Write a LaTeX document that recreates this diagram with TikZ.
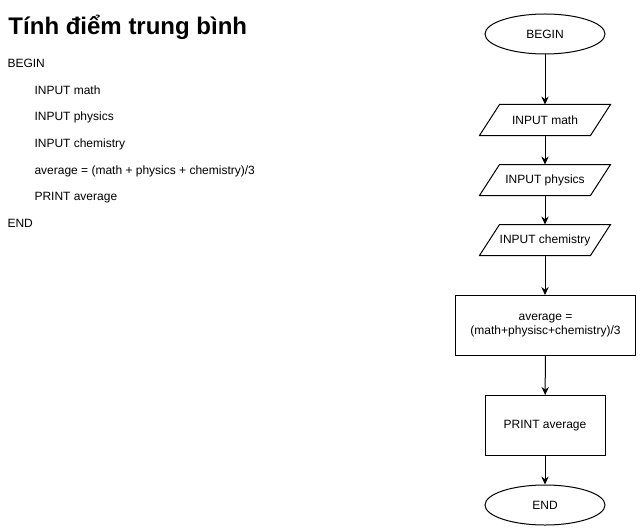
\documentclass[tikz,border=0pt]{standalone}
\usepackage{fontspec}
\setmainfont{Liberation Sans}
\usetikzlibrary{shapes.geometric,arrows.meta}

\begin{document}
\begin{tikzpicture}[x=0.75pt,y=-0.75pt,line width=0.75pt,
    font=\fontsize{9pt}{11pt}\selectfont,
    term/.style={draw,ellipse,minimum width=90pt,minimum height=30pt,inner sep=0pt},
    io/.style={rectangle,minimum width=82.5pt,minimum height=22.5pt,inner sep=0pt},
    proc/.style={draw,rectangle,minimum height=45pt,inner sep=0pt,align=center},
    code/.style={anchor=base west,inner sep=0pt},
    flow/.style={-{Stealth[length=6pt,width=5.5pt,inset=2pt]}}]
  \useasboundingbox (0,0) rectangle (641,531);

  % pseudo code
  \node[code,font=\fontsize{18pt}{20pt}\selectfont\bfseries] (title) at (8,34.5) {Tính điểm trung bình};
  \node[code] (pbegin) at (7,68) {BEGIN};
  \node[code] (pmath) at (34,94.5) {INPUT math};
  \node[code] (pphys) at (34,121) {INPUT physics};
  \node[code] (pchem) at (34,147.5) {INPUT chemistry};
  \node[code] (pavg) at (34,174) {average = (math + physics + chemistry)/3};
  \node[code] (pprint) at (34,200.5) {PRINT average};
  \node[code] (pend) at (7,227) {END};

  % flowchart
  \node[term] (begin) at (545,34) {BEGIN};
  \node[io] (math) at (545,120) {INPUT math};
  \node[io] (phys) at (545,180) {INPUT physics};
  \node[io] (chem) at (545,240) {INPUT chemistry};
  \node[proc,minimum width=135pt] (avg) at (545.5,325.5) {average =\\(math+physisc+chemistry)/3};
  \node[proc,minimum width=90pt] (print) at (545,425.5) {PRINT average};
  \node[term] (end) at (545,505) {END};

  % parallelograms round the input nodes
  \foreach \n in {math,phys,chem}
    \draw ([xshift=7.5pt]\n.north west) -- ([xshift=7.5pt]\n.north east)
      -- ([xshift=-7.5pt]\n.south east) -- ([xshift=-7.5pt]\n.south west) -- cycle;

  \draw[flow] (begin) -- (math.north);
  \draw[flow] (math.south) -- (phys.north);
  \draw[flow] (phys.south) -- (chem.north);
  \draw[flow] (chem.south) -- (chem |- avg.north);
  \draw[flow] (avg) -- (print);
  \draw[flow] (print) -- (end);
\end{tikzpicture}
\end{document}
